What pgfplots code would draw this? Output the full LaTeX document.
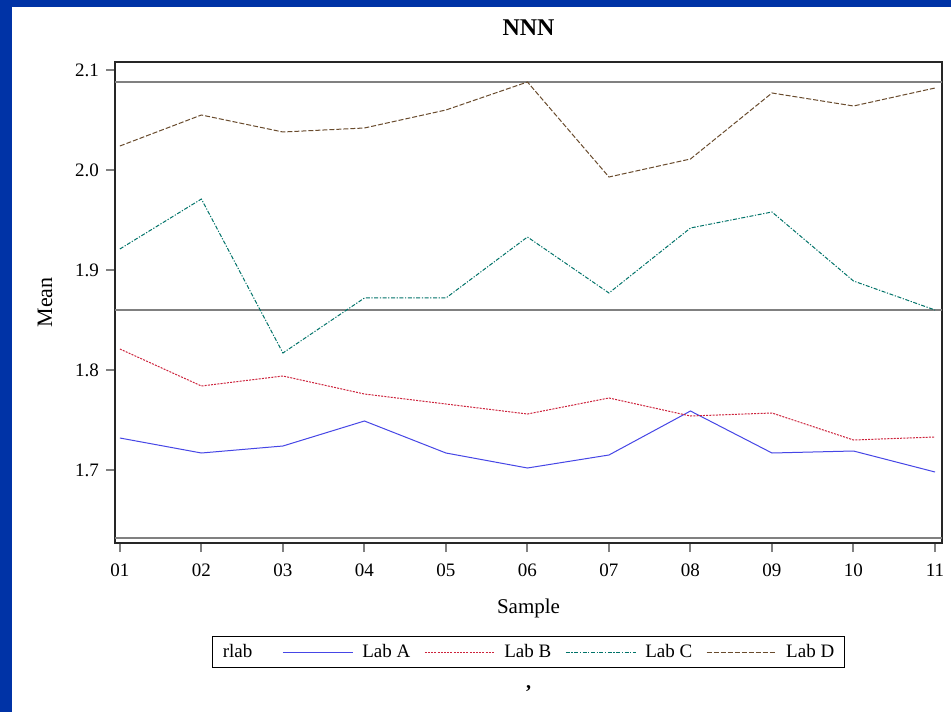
\documentclass[border=0pt]{standalone}
\usepackage{fontspec}
\setmainfont{Liberation Serif}
\usepackage{pgfplots}
\pgfplotsset{compat=1.18}
\definecolor{sasblue}{RGB}{0,51,166}
\definecolor{labA}{RGB}{70,70,230}
\definecolor{labB}{RGB}{205,35,60}
\definecolor{labC}{RGB}{0,115,105}
\definecolor{labD}{RGB}{105,75,45}
\definecolor{refgray}{RGB}{128,128,128}

\begin{document}
\begin{tikzpicture}
% frame of the page
\fill[sasblue] (0,0) rectangle (475.5pt,356pt);
\fill[white] (6pt,0) rectangle (475.5pt,352.5pt);

\begin{axis}[
    at={(57.5pt,84.5pt)}, anchor=south west,
    scale only axis,
    width=413.5pt, height=240.5pt,
    clip=false,
    xmin=0.94, xmax=11.086,
    ymin=1.627, ymax=2.108,
    xtick={1,...,11},
    xticklabels={01,02,03,04,05,06,07,08,09,10,11},
    ytick={1.7,1.8,1.9,2.0,2.1},
    yticklabel style={/pgf/number format/.cd,fixed,fixed zerofill,precision=1},
    /pgf/number format/assume math mode=true,
    tick align=outside,
    major tick length=4.5pt,
    tick style={refgray, line width=1pt},
    xtick pos=bottom, ytick pos=left,
    axis line style={black!85, line width=0.6pt},
    ticklabel style={font=\fontsize{9.5}{11}\selectfont},
    xticklabel style={yshift=-2.5pt},
    title={NNN},
    title style={at={(axis description cs:0.5,1)}, anchor=center, yshift=11pt,
        font=\bfseries\fontsize{12}{14}\selectfont},
    xlabel={Sample},
    xlabel style={at={(axis description cs:0.5,0)}, anchor=center, yshift=-32.5pt,
        font=\fontsize{10.5}{12}\selectfont},
    ylabel={Mean},
    ylabel style={at={(axis description cs:0,0.5)}, anchor=center, yshift=35pt,
        font=\fontsize{11}{13}\selectfont},
    legend columns=-1,
    legend style={at={(axis description cs:0.5,0)}, anchor=center, yshift=-54.5pt,
        draw=black, line width=0.5pt, font=\fontsize{9.5}{11}\selectfont,
        inner ysep=1.5pt, inner xsep=3pt,
        /tikz/every odd column/.append style={column sep=2.5pt},
        /tikz/every even column/.append style={column sep=5pt}},
    legend image code/.code={\draw[#1] (0pt,0pt) -- (35pt,0pt);},
]
% reference lines
\addplot[refgray, line width=1pt, forget plot] coordinates {(0.94,2.088) (11.086,2.088)};
\addplot[refgray, line width=1pt, forget plot] coordinates {(0.94,1.860) (11.086,1.860)};
\addplot[refgray, line width=1pt, forget plot] coordinates {(0.94,1.632) (11.086,1.632)};

\addlegendimage{empty legend}
\addlegendentry{\kern-2.5pt rlab\kern8pt}

\addplot[labA, line width=0.5pt] coordinates {
    (1,1.732) (2,1.717) (3,1.724) (4,1.749) (5,1.717) (6,1.702)
    (7,1.715) (8,1.759) (9,1.717) (10,1.719) (11,1.698)
};
\addlegendentry{Lab A}
\addplot[labB, line width=0.5pt, dash pattern=on 1pt off 0.6pt] coordinates {
    (1,1.821) (2,1.784) (3,1.794) (4,1.776) (5,1.766) (6,1.756)
    (7,1.772) (8,1.754) (9,1.757) (10,1.730) (11,1.733)
};
\addlegendentry{Lab B}
\addplot[labC, line width=0.5pt, dash pattern=on 2pt off 0.8pt on 0.6pt off 0.8pt] coordinates {
    (1,1.921) (2,1.971) (3,1.817) (4,1.872) (5,1.872) (6,1.933)
    (7,1.877) (8,1.942) (9,1.958) (10,1.889) (11,1.860)
};
\addlegendentry{Lab C}
\addplot[labD, line width=0.5pt, dash pattern=on 2.5pt off 1pt] coordinates {
    (1,2.024) (2,2.055) (3,2.038) (4,2.042) (5,2.060) (6,2.088)
    (7,1.993) (8,2.011) (9,2.077) (10,2.064) (11,2.082)
};
\addlegendentry{Lab D}

\node[font=\bfseries\fontsize{10}{12}\selectfont] at (axis description cs:0.5,0) [yshift=-73pt] {,};
\end{axis}
\end{tikzpicture}
\end{document}
